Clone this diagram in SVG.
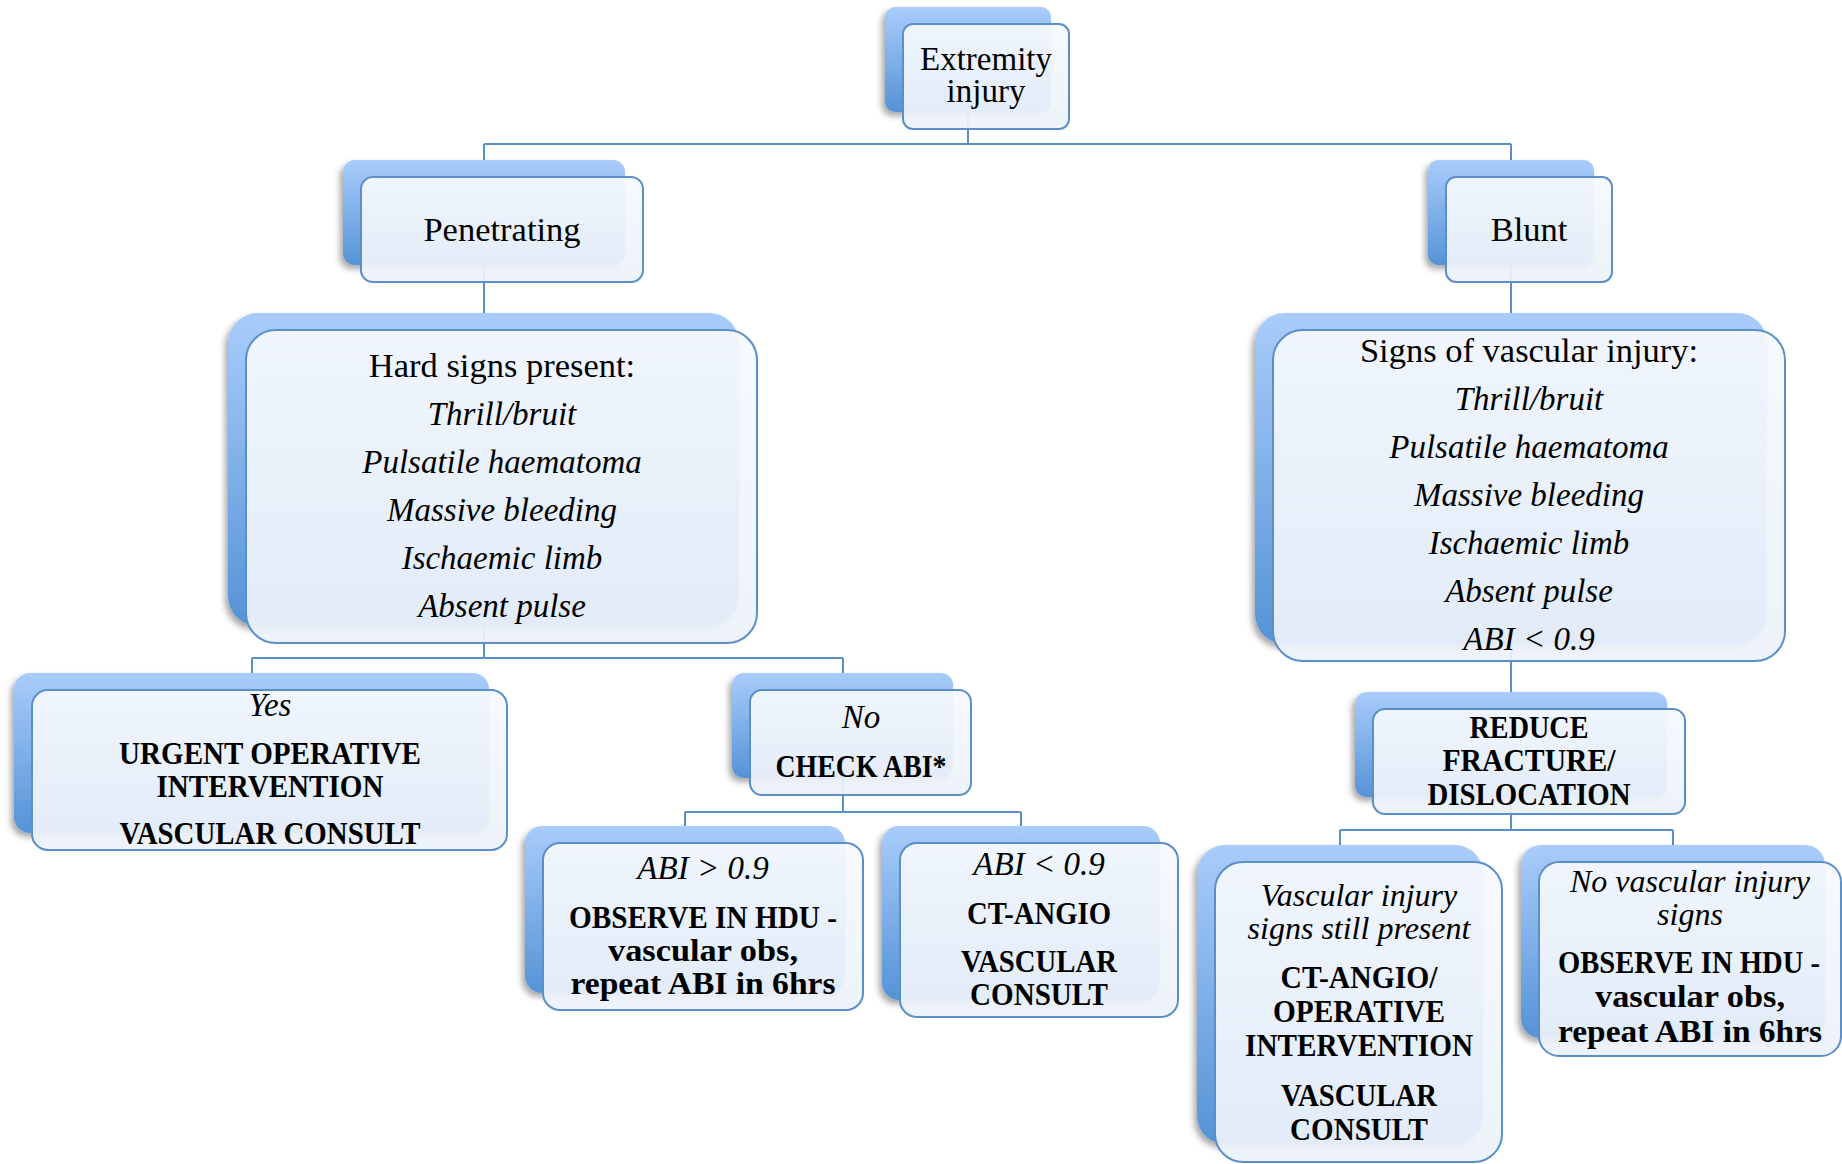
<svg xmlns="http://www.w3.org/2000/svg" width="1842" height="1164" viewBox="0 0 1842 1164">
<defs>
<linearGradient id="gBack" x1="0" y1="0" x2="0" y2="1">
<stop offset="0" stop-color="#a9ccfb"/>
<stop offset="1" stop-color="#5593d6"/>
</linearGradient>
<linearGradient id="gFront" x1="0" y1="0" x2="0" y2="1">
<stop offset="0" stop-color="#f6f9fe"/>
<stop offset="1" stop-color="#ecf2fa"/>
</linearGradient>
<filter id="sh" x="-10%" y="-10%" width="120%" height="125%">
<feDropShadow dx="-3" dy="4" stdDeviation="3" flood-color="#000" flood-opacity="0.35"/>
</filter>
</defs>
<style>
.back{fill:url(#gBack);filter:url(#sh)}
.front{fill:url(#gFront);fill-opacity:0.93;stroke:#5b8fc7;stroke-width:2}
.conn{fill:none;stroke:#5b8fc7;stroke-width:2}
text{font-family:"Liberation Serif","Times New Roman",serif;fill:#000;text-anchor:middle}
.r{font-size:34.5px}
.r2{font-size:33px}
.i{font-size:33px;font-style:italic}
.i2{font-size:32px;font-style:italic}
.b{font-size:32px;font-weight:bold}
</style>

<g id="connectors">
<path class="conn" d="M968,112V144M484,144H1511M484,144V160M1511,144V160"/>
<path class="conn" d="M484,265V313M1511,265V313"/>
<path class="conn" d="M484,626V658M252,658H843M252,658V673M843,658V673"/>
<path class="conn" d="M843,778V812M685,812H1021M685,812V826M1021,812V826"/>
<path class="conn" d="M1511,644V692"/>
<path class="conn" d="M1511,797V830M1340,830H1673M1340,830V845M1673,830V845"/>
</g>

<g id="n-extremity">
<rect class="back" x="885" y="7" width="166" height="105" rx="10"/>
<rect class="front" x="903" y="24" width="166" height="105" rx="10"/>
<text class="r2" x="986" y="70">Extremity</text>
<text class="r2" x="986" y="102">injury</text>
</g>

<g id="n-penetrating">
<rect class="back" x="343" y="160" width="282" height="105" rx="12"/>
<rect class="front" x="361" y="177" width="282" height="105" rx="12"/>
<text class="r" x="502" y="241">Penetrating</text>
</g>

<g id="n-blunt">
<rect class="back" x="1428" y="160" width="166" height="105" rx="10"/>
<rect class="front" x="1446" y="177" width="166" height="105" rx="10"/>
<text class="r" x="1529" y="241">Blunt</text>
</g>

<g id="n-hardsigns">
<rect class="back" x="228" y="313" width="511" height="313" rx="30"/>
<rect class="front" x="246" y="330" width="511" height="313" rx="30"/>
<text class="r" x="502" y="377">Hard signs present:</text>
<text class="i" x="502" y="425">Thrill/bruit</text>
<text class="i" x="502" y="473">Pulsatile haematoma</text>
<text class="i" x="502" y="521">Massive bleeding</text>
<text class="i" x="502" y="569">Ischaemic limb</text>
<text class="i" x="502" y="617">Absent pulse</text>
</g>

<g id="n-signs">
<rect class="back" x="1255" y="313" width="512" height="331" rx="30"/>
<rect class="front" x="1273" y="330" width="512" height="331" rx="30"/>
<text class="r" x="1529" y="362">Signs of vascular injury:</text>
<text class="i" x="1529" y="410">Thrill/bruit</text>
<text class="i" x="1529" y="458">Pulsatile haematoma</text>
<text class="i" x="1529" y="506">Massive bleeding</text>
<text class="i" x="1529" y="554">Ischaemic limb</text>
<text class="i" x="1529" y="602">Absent pulse</text>
<text class="i" x="1529" y="650">ABI &lt; 0.9</text>
</g>

<g id="n-yes">
<rect class="back" x="14" y="673" width="475" height="160" rx="16"/>
<rect class="front" x="32" y="690" width="475" height="160" rx="16"/>
<text class="i" x="270" y="716">Yes</text>
<text class="b" x="270" y="764" textLength="302" lengthAdjust="spacingAndGlyphs">URGENT OPERATIVE</text>
<text class="b" x="270" y="797" textLength="227" lengthAdjust="spacingAndGlyphs">INTERVENTION</text>
<text class="b" x="270" y="844" textLength="301" lengthAdjust="spacingAndGlyphs">VASCULAR CONSULT</text>
</g>

<g id="n-no">
<rect class="back" x="732" y="673" width="221" height="105" rx="12"/>
<rect class="front" x="750" y="690" width="221" height="105" rx="12"/>
<text class="i" x="861" y="728">No</text>
<text class="b" x="861" y="777" textLength="171" lengthAdjust="spacingAndGlyphs">CHECK ABI*</text>
</g>

<g id="n-abi-high">
<rect class="back" x="525" y="826" width="320" height="167" rx="17"/>
<rect class="front" x="543" y="843" width="320" height="167" rx="17"/>
<text class="i" x="703" y="879">ABI &gt; 0.9</text>
<text class="b" x="703" y="928" textLength="268" lengthAdjust="spacingAndGlyphs">OBSERVE IN HDU -</text>
<text class="b" x="703" y="961" textLength="190" lengthAdjust="spacingAndGlyphs">vascular obs,</text>
<text class="b" x="703" y="994" textLength="265" lengthAdjust="spacingAndGlyphs">repeat ABI in 6hrs</text>
</g>

<g id="n-abi-low">
<rect class="back" x="882" y="826" width="278" height="174" rx="17"/>
<rect class="front" x="900" y="843" width="278" height="174" rx="17"/>
<text class="i" x="1039" y="875">ABI &lt; 0.9</text>
<text class="b" x="1039" y="924" textLength="144" lengthAdjust="spacingAndGlyphs">CT-ANGIO</text>
<text class="b" x="1039" y="972" textLength="156" lengthAdjust="spacingAndGlyphs">VASCULAR</text>
<text class="b" x="1039" y="1005" textLength="138" lengthAdjust="spacingAndGlyphs">CONSULT</text>
</g>

<g id="n-reduce">
<rect class="back" x="1355" y="692" width="312" height="105" rx="12"/>
<rect class="front" x="1373" y="709" width="312" height="105" rx="12"/>
<text class="b" x="1529" y="738" textLength="119" lengthAdjust="spacingAndGlyphs">REDUCE</text>
<text class="b" x="1529" y="771" textLength="173" lengthAdjust="spacingAndGlyphs">FRACTURE/</text>
<text class="b" x="1529" y="805" textLength="203" lengthAdjust="spacingAndGlyphs">DISLOCATION</text>
</g>

<g id="n-vasc-present">
<rect class="back" x="1197" y="845" width="286" height="299" rx="28"/>
<rect class="front" x="1215" y="862" width="287" height="300" rx="28"/>
<text class="i2" x="1359" y="906">Vascular injury</text>
<text class="i2" x="1359" y="939">signs still present</text>
<text class="b" x="1359" y="988" textLength="157" lengthAdjust="spacingAndGlyphs">CT-ANGIO/</text>
<text class="b" x="1359" y="1022" textLength="172" lengthAdjust="spacingAndGlyphs">OPERATIVE</text>
<text class="b" x="1359" y="1056" textLength="228" lengthAdjust="spacingAndGlyphs">INTERVENTION</text>
<text class="b" x="1359" y="1106" textLength="156" lengthAdjust="spacingAndGlyphs">VASCULAR</text>
<text class="b" x="1359" y="1140" textLength="138" lengthAdjust="spacingAndGlyphs">CONSULT</text>
</g>

<g id="n-no-vasc">
<rect class="back" x="1521" y="845" width="304" height="193" rx="20"/>
<rect class="front" x="1539" y="862" width="302" height="194" rx="20"/>
<text class="i2" x="1690" y="892">No vascular injury</text>
<text class="i2" x="1690" y="925">signs</text>
<text class="b" x="1689" y="973" textLength="262" lengthAdjust="spacingAndGlyphs">OBSERVE IN HDU -</text>
<text class="b" x="1690" y="1007" textLength="190" lengthAdjust="spacingAndGlyphs">vascular obs,</text>
<text class="b" x="1690" y="1042" textLength="264" lengthAdjust="spacingAndGlyphs">repeat ABI in 6hrs</text>
</g>
</svg>
